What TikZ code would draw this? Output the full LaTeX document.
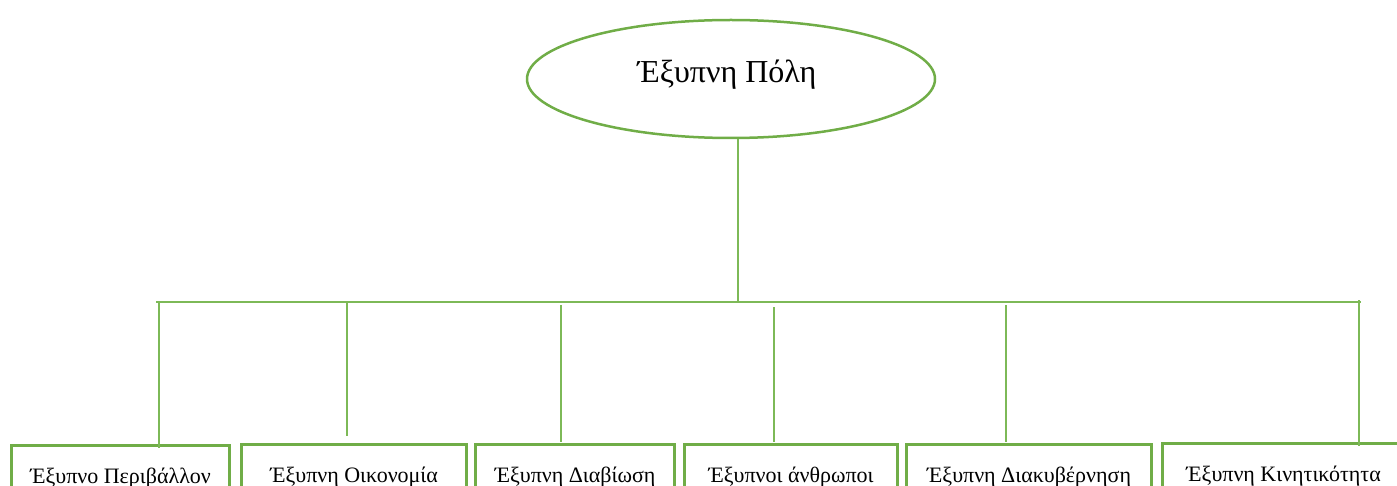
\documentclass[tikz,border=0pt]{standalone}
\usepackage{fontspec}
\setmainfont{Liberation Serif}
\usetikzlibrary{shapes.geometric}
\definecolor{grn}{HTML}{70AD47}
\definecolor{lgrn}{HTML}{7DB957}
\tikzset{
  cityshape/.style={ellipse, draw=grn, line width=2.5pt, minimum width=408pt, minimum height=118pt, inner sep=0pt},
  citytext/.style={font=\fontsize{32}{38}\selectfont, anchor=base, inner sep=0pt},
  areabox/.style={draw=grn, line width=3.2pt, anchor=north west, inner xsep=0pt, inner ysep=0pt,
    text height=38pt, text depth=32pt, font=\fontsize{22}{26}\selectfont},
  link/.style={draw=lgrn, line width=1.5pt}
}
\begin{document}
\begin{tikzpicture}[x=1pt,y=-1pt]
\useasboundingbox (0,0) rectangle (1397,486);
\clip (0,0) rectangle (1397,486);
\node[cityshape] (city) at (731,79) {};
\node[citytext] (citylabel) at (727,83) {Έξυπνη Πόλη};

\node[areabox, minimum width=218pt] (b1) at (10,444) {Έξυπνο Περιβάλλον};
\node[areabox, minimum width=225pt] (b2) at (240,443) {Έξυπνη Οικονομία};
\node[areabox, minimum width=199pt] (b3) at (474,443) {Έξυπνη Διαβίωση};
\node[areabox, minimum width=213pt] (b4) at (683,443) {Έξυπνοι άνθρωποι};
\node[areabox, minimum width=245pt] (b5) at (905,443) {Έξυπνη Διακυβέρνηση};
\node[areabox, minimum width=242pt] (b6) at (1161,442) {Έξυπνη Κινητικότητα};

\coordinate (hub) at (738,302);
\coordinate (barL) at (156,302);
\coordinate (barR) at (1361,302);
\coordinate (t1) at (159,301); \coordinate (e1) at (159,448);
\coordinate (t2) at (347,301); \coordinate (e2) at (347,436);
\coordinate (t3) at (561,305); \coordinate (e3) at (561,442);
\coordinate (t4) at (774,307); \coordinate (e4) at (774,442);
\coordinate (t5) at (1006,305); \coordinate (e5) at (1006,442);
\coordinate (t6) at (1359,300); \coordinate (e6) at (1359,446);

\draw[link] (city.south -| hub) -- (hub);
\draw[link] (barL) -- (barR);
\foreach \i in {1,...,6} {\draw[link] (t\i) -- (e\i);}
\end{tikzpicture}
\end{document}
